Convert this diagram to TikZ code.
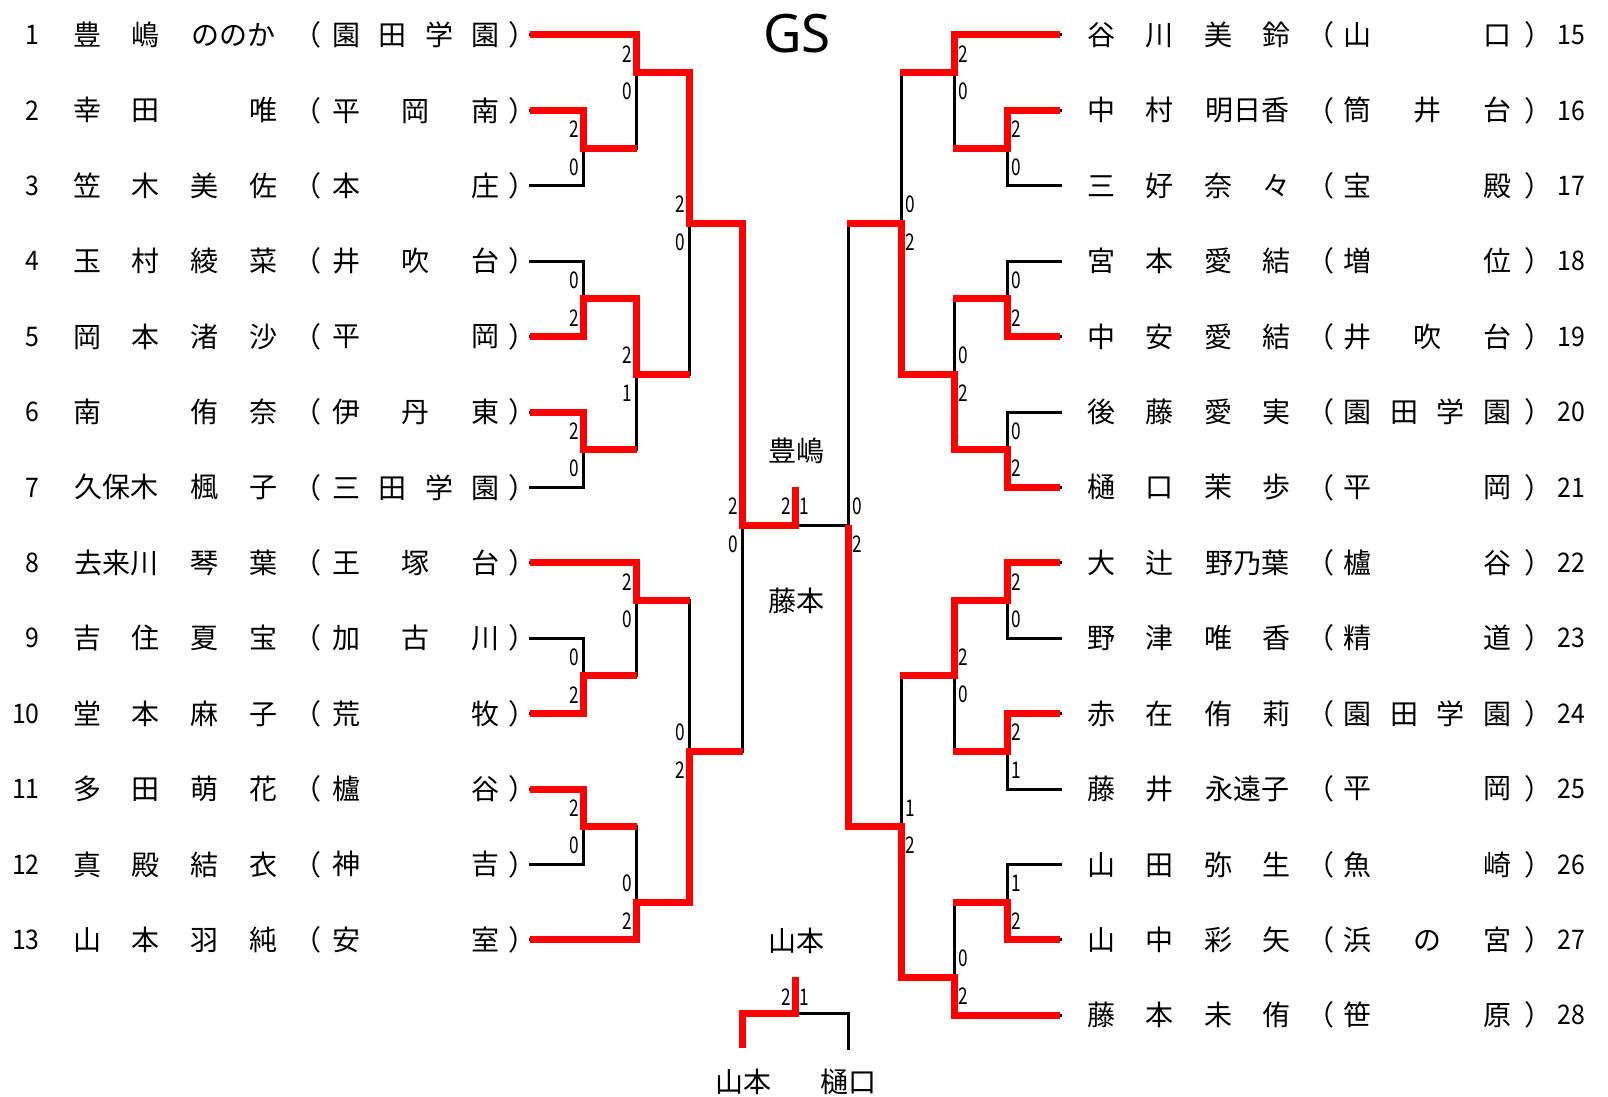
\documentclass[tikz,border=0pt]{standalone}
\usepackage{fontspec}
\usepackage{graphicx}
\newfontfamily\jp{Noto Sans CJK JP}
\newfontfamily\gsfont{Noto Sans}
\definecolor{rd}{RGB}{255,0,0}
\newlength\slw \newlength\sfw \newlength\stw
\setlength\slw{29.33pt}\setlength\sfw{23.3pt}\setlength\stw{34.8pt}
\newcommand\ncA[1]{\makebox[\slw]{#1}}
\newcommand\ncB[1]{\makebox[2\slw]{#1}}
\newcommand\scF[4]{\makebox[\sfw]{#1}\makebox[\sfw]{#2}\makebox[\sfw]{#3}\makebox[\sfw]{#4}}
\newcommand\scT[3]{\makebox[\stw]{#1}\makebox[\stw]{#2}\makebox[\stw]{#3}}
\newcount\scn
\newcommand\scoreL[3]{\global\advance\scn by 1
  \node[scs,anchor=east] (sc\the\scn) at ({#1-4},{ky(#2)}) {\scalebox{.75}[1]{#3}};}
\newcommand\scoreR[3]{\global\advance\scn by 1
  \node[scs,anchor=west] (sc\the\scn) at ({#1+4},{ky(#2)}) {\scalebox{.75}[1]{#3}};}
\newcommand\Lrow[4]{%
  \node[numf,anchor=east] (ln#2) at (40,{ky(#1)}) {\scalebox{.92}[1]{#2}};
  \node[jl] (lname#2) at (175.2,{ky(#1)}) {#3};
  \node[jl] (lop#2) at (307.5,{ky(#1)}) {（};
  \node[jl] (lsch#2) at (416,{ky(#1)}) {#4};
  \node[jl] (lcp#2) at (522.5,{ky(#1)}) {）};}
\newcommand\Rrow[4]{%
  \node[numf,anchor=west] (rn#2) at (1557,{ky(#1)}) {\scalebox{.92}[1]{#2}};
  \node[jl] (rname#2) at (1189,{ky(#1)}) {#3};
  \node[jl] (rop#2) at (1320,{ky(#1)}) {（};
  \node[jl] (rsch#2) at (1427.5,{ky(#1)}) {#4};
  \node[jl] (rcp#2) at (1538.5,{ky(#1)}) {）};}
\begin{document}
\begin{tikzpicture}[x=0.5pt,y=-0.5pt,
  declare function={ky(\k)=35+37.7*\k;},
  jl/.style={font=\jp\fontsize{14}{16}\selectfont,inner sep=0pt},
  jc/.style={font=\jp\fontsize{14}{16}\selectfont,inner sep=0pt},
  numf/.style={font=\jp\fontsize{13.5}{15}\selectfont,inner sep=0pt},
  scs/.style={font=\jp\fontsize{11.5}{13}\selectfont,inner sep=0pt},
  blk/.style={draw=black,line width=1.5pt,line cap=rect},
  win/.style={draw=rd,line width=3.5pt,line join=miter}]
\fill[white] (0,0) rectangle (1608,1097);
\useasboundingbox (0,0) rectangle (1608,1097);

% ---------- black bracket ----------
\foreach \k/\xe in {0/636,2/583,4/583,6/583,8/583,10/583,12/583,14/636,16/583,18/583,20/583,22/583,24/636}
  \draw[blk] (530,{ky(\k)}) -- (\xe,{ky(\k)});
\foreach \a/\b in {2/4,6/8,10/12,16/18,20/22} \draw[blk] (583,{ky(\a)}) -- (583,{ky(\b)});
\foreach \a/\b in {0/3,7/11,14/17,21/24} \draw[blk] (636,{ky(\a)}) -- (636,{ky(\b)});
\foreach \a/\b in {1/9,15/23} \draw[blk] (689,{ky(\a)}) -- (689,{ky(\b)});
\draw[blk] (742,{ky(5)}) -- (742,{ky(19)});
\foreach \k in {3,7,11,17,21} \draw[blk] (583,{ky(\k)}) -- (636,{ky(\k)});
\foreach \k in {1,9,15,23} \draw[blk] (636,{ky(\k)}) -- (689,{ky(\k)});
\foreach \k in {5,19} \draw[blk] (689,{ky(\k)}) -- (742,{ky(\k)});
\draw[blk] (742,{ky(13)}) -- (848,{ky(13)});
\foreach \k/\xe in {0/954,2/1007,4/1007,6/1007,8/1007,10/1007,12/1007,14/1007,16/1007,18/1007,20/1007,22/1007,24/1007,26/954}
  \draw[blk] (1060,{ky(\k)}) -- (\xe,{ky(\k)});
\foreach \a/\b in {2/4,6/8,10/12,14/16,18/20,22/24} \draw[blk] (1007,{ky(\a)}) -- (1007,{ky(\b)});
\foreach \a/\b in {0/3,7/11,15/19,23/26} \draw[blk] (954,{ky(\a)}) -- (954,{ky(\b)});
\foreach \a/\b in {1/9,17/25} \draw[blk] (901,{ky(\a)}) -- (901,{ky(\b)});
\draw[blk] (848,{ky(5)}) -- (848,{ky(21)});
\foreach \k in {3,7,11,15,19,23} \draw[blk] (1007,{ky(\k)}) -- (954,{ky(\k)});
\foreach \k in {1,9,17,25} \draw[blk] (954,{ky(\k)}) -- (901,{ky(\k)});
\foreach \k in {5,21} \draw[blk] (901,{ky(\k)}) -- (848,{ky(\k)});
\draw[blk] (795,1013) -- (848,1013) -- (848,1048);

% ---------- red winner paths ----------
\draw[win] (530,{ky(0)}) -- (636,{ky(0)}) -- (636,{ky(1)}) -- (689,{ky(1)}) -- (689,{ky(5)}) -- (742,{ky(5)}) -- (742,{ky(13)}) -- (795,{ky(13)}) -- (795,{ky(12)});
\draw[win] (530,{ky(2)}) -- (583,{ky(2)}) -- (583,{ky(3)}) -- (637,{ky(3)});
\draw[win] (530,{ky(8)}) -- (583,{ky(8)}) -- (583,{ky(7)}) -- (636,{ky(7)}) -- (636,{ky(9)}) -- (690,{ky(9)});
\draw[win] (530,{ky(10)}) -- (583,{ky(10)}) -- (583,{ky(11)}) -- (637,{ky(11)});
\draw[win] (530,{ky(14)}) -- (636,{ky(14)}) -- (636,{ky(15)}) -- (690,{ky(15)});
\draw[win] (530,{ky(18)}) -- (583,{ky(18)}) -- (583,{ky(17)}) -- (637,{ky(17)});
\draw[win] (530,{ky(20)}) -- (583,{ky(20)}) -- (583,{ky(21)}) -- (637,{ky(21)});
\draw[win] (530,{ky(24)}) -- (636,{ky(24)}) -- (636,{ky(23)}) -- (689,{ky(23)}) -- (689,{ky(19)}) -- (743,{ky(19)});
\draw[win] (1060,{ky(0)}) -- (954,{ky(0)}) -- (954,{ky(1)}) -- (900,{ky(1)});
\draw[win] (1060,{ky(2)}) -- (1007,{ky(2)}) -- (1007,{ky(3)}) -- (953,{ky(3)});
\draw[win] (1060,{ky(8)}) -- (1007,{ky(8)}) -- (1007,{ky(7)}) -- (953,{ky(7)});
\draw[win] (1060,{ky(12)}) -- (1007,{ky(12)}) -- (1007,{ky(11)}) -- (954,{ky(11)}) -- (954,{ky(9)}) -- (901,{ky(9)}) -- (901,{ky(5)}) -- (847,{ky(5)});
\draw[win] (1060,{ky(14)}) -- (1007,{ky(14)}) -- (1007,{ky(15)}) -- (954,{ky(15)}) -- (954,{ky(17)}) -- (900,{ky(17)});
\draw[win] (1060,{ky(18)}) -- (1007,{ky(18)}) -- (1007,{ky(19)}) -- (953,{ky(19)});
\draw[win] (1060,{ky(24)}) -- (1007,{ky(24)}) -- (1007,{ky(23)}) -- (953,{ky(23)});
\draw[win] (1060,{ky(26)}) -- (954,{ky(26)}) -- (954,{ky(25)}) -- (901,{ky(25)}) -- (901,{ky(21)}) -- (848,{ky(21)}) -- (848,{ky(13)});
\draw[win] (742,1048) -- (742,1013) -- (795,1013) -- (795,977);

% ---------- scores ----------
\scoreL{583}{2.5}{2}\scoreL{583}{3.5}{0}
\scoreL{583}{6.5}{0}\scoreL{583}{7.5}{2}
\scoreL{583}{10.5}{2}\scoreL{583}{11.5}{0}
\scoreL{583}{16.5}{0}\scoreL{583}{17.5}{2}
\scoreL{583}{20.5}{2}\scoreL{583}{21.5}{0}
\scoreL{636}{0.5}{2}\scoreL{636}{1.5}{0}
\scoreL{636}{8.5}{2}\scoreL{636}{9.5}{1}
\scoreL{636}{14.5}{2}\scoreL{636}{15.5}{0}
\scoreL{636}{22.5}{0}\scoreL{636}{23.5}{2}
\scoreL{689}{4.5}{2}\scoreL{689}{5.5}{0}
\scoreL{689}{18.5}{0}\scoreL{689}{19.5}{2}
\scoreL{742}{12.5}{2}\scoreL{742}{13.5}{0}
\scoreL{795}{12.5}{2}\scoreR{795}{12.5}{1}
\scoreR{1007}{2.5}{2}\scoreR{1007}{3.5}{0}
\scoreR{1007}{6.5}{0}\scoreR{1007}{7.5}{2}
\scoreR{1007}{10.5}{0}\scoreR{1007}{11.5}{2}
\scoreR{1007}{14.5}{2}\scoreR{1007}{15.5}{0}
\scoreR{1007}{18.5}{2}\scoreR{1007}{19.5}{1}
\scoreR{1007}{22.5}{1}\scoreR{1007}{23.5}{2}
\scoreR{954}{0.5}{2}\scoreR{954}{1.5}{0}
\scoreR{954}{8.5}{0}\scoreR{954}{9.5}{2}
\scoreR{954}{16.5}{2}\scoreR{954}{17.5}{0}
\scoreR{954}{24.5}{0}\scoreR{954}{25.5}{2}
\scoreR{901}{4.5}{0}\scoreR{901}{5.5}{2}
\scoreR{901}{20.5}{1}\scoreR{901}{21.5}{2}
\scoreR{848}{12.5}{0}\scoreR{848}{13.5}{2}
\node[scs,anchor=east] (tp2) at (791,997) {\scalebox{.75}[1]{2}};
\node[scs,anchor=west] (tp1) at (799,997) {\scalebox{.75}[1]{1}};

% ---------- left players ----------
\Lrow{0}{1}{\ncA{豊}\ncA{嶋}\ncB{ののか}}{\scF{園}{田}{学}{園}}
\Lrow{2}{2}{\ncA{幸}\ncA{田}\ncA{}\ncA{唯}}{\scT{平}{岡}{南}}
\Lrow{4}{3}{\ncA{笠}\ncA{木}\ncA{美}\ncA{佐}}{\scT{本}{}{庄}}
\Lrow{6}{4}{\ncA{玉}\ncA{村}\ncA{綾}\ncA{菜}}{\scT{井}{吹}{台}}
\Lrow{8}{5}{\ncA{岡}\ncA{本}\ncA{渚}\ncA{沙}}{\scT{平}{}{岡}}
\Lrow{10}{6}{\ncA{南}\ncA{}\ncA{侑}\ncA{奈}}{\scT{伊}{丹}{東}}
\Lrow{12}{7}{\ncB{久保木}\ncA{楓}\ncA{子}}{\scF{三}{田}{学}{園}}
\Lrow{14}{8}{\ncB{去来川}\ncA{琴}\ncA{葉}}{\scT{王}{塚}{台}}
\Lrow{16}{9}{\ncA{吉}\ncA{住}\ncA{夏}\ncA{宝}}{\scT{加}{古}{川}}
\Lrow{18}{10}{\ncA{堂}\ncA{本}\ncA{麻}\ncA{子}}{\scT{荒}{}{牧}}
\Lrow{20}{11}{\ncA{多}\ncA{田}\ncA{萌}\ncA{花}}{\scT{櫨}{}{谷}}
\Lrow{22}{12}{\ncA{真}\ncA{殿}\ncA{結}\ncA{衣}}{\scT{神}{}{吉}}
\Lrow{24}{13}{\ncA{山}\ncA{本}\ncA{羽}\ncA{純}}{\scT{安}{}{室}}

% ---------- right players ----------
\Rrow{0}{15}{\ncA{谷}\ncA{川}\ncA{美}\ncA{鈴}}{\scT{山}{}{口}}
\Rrow{2}{16}{\ncA{中}\ncA{村}\ncB{明日香}}{\scT{筒}{井}{台}}
\Rrow{4}{17}{\ncA{三}\ncA{好}\ncA{奈}\ncA{々}}{\scT{宝}{}{殿}}
\Rrow{6}{18}{\ncA{宮}\ncA{本}\ncA{愛}\ncA{結}}{\scT{増}{}{位}}
\Rrow{8}{19}{\ncA{中}\ncA{安}\ncA{愛}\ncA{結}}{\scT{井}{吹}{台}}
\Rrow{10}{20}{\ncA{後}\ncA{藤}\ncA{愛}\ncA{実}}{\scF{園}{田}{学}{園}}
\Rrow{12}{21}{\ncA{樋}\ncA{口}\ncA{茉}\ncA{歩}}{\scT{平}{}{岡}}
\Rrow{14}{22}{\ncA{大}\ncA{辻}\ncB{野乃葉}}{\scT{櫨}{}{谷}}
\Rrow{16}{23}{\ncA{野}\ncA{津}\ncA{唯}\ncA{香}}{\scT{精}{}{道}}
\Rrow{18}{24}{\ncA{赤}\ncA{在}\ncA{侑}\ncA{莉}}{\scF{園}{田}{学}{園}}
\Rrow{20}{25}{\ncA{藤}\ncA{井}\ncB{永遠子}}{\scT{平}{}{岡}}
\Rrow{22}{26}{\ncA{山}\ncA{田}\ncA{弥}\ncA{生}}{\scT{魚}{}{崎}}
\Rrow{24}{27}{\ncA{山}\ncA{中}\ncA{彩}\ncA{矢}}{\scT{浜}{の}{宮}}
\Rrow{26}{28}{\ncA{藤}\ncA{本}\ncA{未}\ncA{侑}}{\scT{笹}{}{原}}

% ---------- centre labels ----------
\node[font=\gsfont\fontsize{26.5}{30}\selectfont,inner sep=0pt] (title) at (797,34) {GS};
\node[jc] (champ) at (796,451) {豊嶋};
\node[jc] (runner) at (796,601) {藤本};
\node[jc] (third) at (796,941) {山本};
\node[jc] (tpa) at (743,1082) {山本};
\node[jc] (tpb) at (848,1082) {樋口};
\end{tikzpicture}
\end{document}
